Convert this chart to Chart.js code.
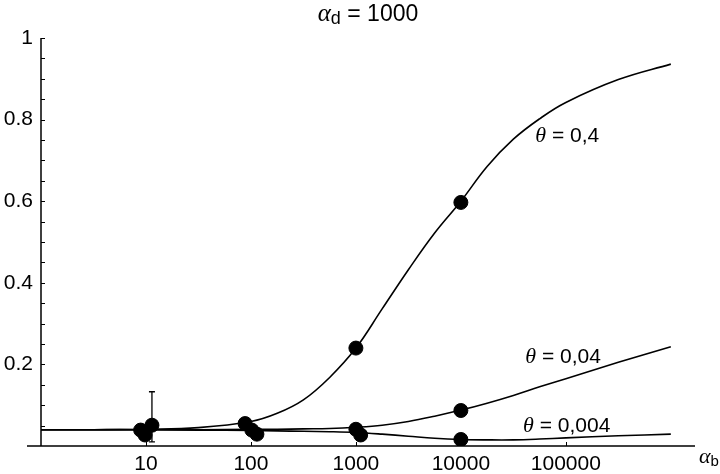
<!DOCTYPE html>
<html><head><meta charset="utf-8">
<script src="https://cdn.jsdelivr.net/npm/chart.js@4/dist/chart.umd.min.js"></script>
<style>html,body{margin:0;padding:0;background:#fff}canvas{display:block}</style>
</head><body>
<canvas id="c" width="720" height="474"></canvas>
<script>
// ---- data ----
const curveX     = [1, 3.16, 10, 31.6, 100, 178, 316, 562, 1000, 1778, 3162, 5623, 10000, 17783, 31623, 56234, 100000, 316228, 1000000];
const theta04    = [0.040, 0.040, 0.041, 0.045, 0.060, 0.080, 0.113, 0.168, 0.240, 0.336, 0.432, 0.522, 0.600, 0.685, 0.752, 0.802, 0.842, 0.898, 0.936];
const theta004   = [0.040, 0.040, 0.040, 0.040, 0.041, 0.041, 0.042, 0.043, 0.046, 0.051, 0.060, 0.073, 0.088, 0.105, 0.124, 0.145, 0.165, 0.205, 0.243];
const theta0004  = [0.040, 0.040, 0.040, 0.039, 0.038, 0.037, 0.036, 0.035, 0.033, 0.029, 0.024, 0.019, 0.016, 0.015, 0.015, 0.017, 0.020, 0.025, 0.029];
const pointX     = [8.9, 9.8, 11.4, 88, 102, 114, 1000, 1000, 1110, 10000, 10000, 10000];
const pointY     = [0.039, 0.027, 0.051, 0.055, 0.039, 0.029, 0.240, 0.041, 0.027, 0.597, 0.087, 0.016];
const errX       = [11.4];
const errLow     = [0.010];
const errHigh    = [0.133];
const xTickValues = [10, 100, 1000, 10000, 100000];
const xTickLabels = ['10', '100', '1000', '10000', '100000'];
const yLabelled   = [0.2, 0.4, 0.6, 0.8, 1];
const yTickLabels = ['0.2', '0.4', '0.6', '0.8', '1'];
const curveLabelText = ['0,4', '0,04', '0,004'];
const curveLabelX    = [51200, 41100, 39100];
const curveLabelY    = [0.745, 0.203, 0.035];

const SANS = '"Liberation Sans", Arial, Helvetica, sans-serif';
const SERIF = '"Liberation Serif", "Times New Roman", serif';
const FS = 21;

function drawParts(ctx, parts, x, y, align) {
  let w = 0;
  parts.forEach(p => { ctx.font = p.font; w += ctx.measureText(p.t).width; });
  let cx = align === 'center' ? x - w / 2 : x;
  ctx.textBaseline = 'alphabetic';
  ctx.textAlign = 'left';
  parts.forEach(p => {
    ctx.font = p.font;
    ctx.fillText(p.t, cx, y + (p.dy || 0));
    cx += ctx.measureText(p.t).width;
  });
}

const decor = {
  id: 'decor',
  beforeDatasetsDraw(chart) {
    const {ctx, scales: {x, y}} = chart;
    ctx.save();
    ctx.strokeStyle = '#000';
    ctx.lineWidth = 1.3;
    errX.forEach((v, i) => {
      const px = x.getPixelForValue(v);
      const lo = y.getPixelForValue(errLow[i]);
      const hi = y.getPixelForValue(errHigh[i]);
      ctx.beginPath();
      ctx.moveTo(px, lo); ctx.lineTo(px, hi);
      ctx.moveTo(px - 3, hi); ctx.lineTo(px + 3, hi);
      ctx.moveTo(px - 3, lo); ctx.lineTo(px + 3, lo);
      ctx.stroke();
    });
    ctx.restore();
  },
  afterDraw(chart) {
    const {ctx, chartArea: a, scales: {x, y}} = chart;
    ctx.save();
    ctx.strokeStyle = '#000';
    ctx.fillStyle = '#000';
    ctx.lineWidth = 1.5;
    const y0 = y.getPixelForValue(0);
    const y1 = y.getPixelForValue(1);
    ctx.beginPath();
    ctx.moveTo(a.left - 14, y0); ctx.lineTo(a.right, y0);
    ctx.moveTo(a.left, y1); ctx.lineTo(a.left, y0);
    ctx.stroke();
    ctx.lineWidth = 1;
    ctx.beginPath();
    y.ticks.forEach(t => {
      if (t.value <= 0) return;
      const p = Math.round(y.getPixelForValue(t.value)) + 0.5;
      ctx.moveTo(a.left, p); ctx.lineTo(a.left + 4, p);
    });
    xTickValues.forEach(v => {
      const p = Math.round(x.getPixelForValue(v)) + 0.5;
      ctx.moveTo(p, y0); ctx.lineTo(p, y0 - 4);
    });
    ctx.stroke();
    // title
    drawParts(ctx, [
      {t: 'α', font: `italic ${FS + 4}px ${SERIF}`},
      {t: 'd', font: `${FS - 3}px ${SANS}`, dy: 3},
      {t: ' = 1000', font: `${FS + 2}px ${SANS}`}
    ], (a.left + a.right) / 2, 21, 'center');
    // axis name
    drawParts(ctx, [
      {t: 'α', font: `italic ${FS + 1}px ${SERIF}`},
      {t: 'b', font: `${FS - 6}px ${SANS}`, dy: 3}
    ], a.right + 4, y0 + 17, 'left');
    // curve labels
    curveLabelText.forEach((s, i) => {
      drawParts(ctx, [
        {t: 'θ', font: `italic ${FS + 1}px ${SERIF}`},
        {t: ' = ' + s, font: `${FS}px ${SANS}`}
      ], x.getPixelForValue(curveLabelX[i]), y.getPixelForValue(curveLabelY[i]), 'left');
    });
    ctx.restore();
  }
};

function curve(vals) {
  return {
    type: 'line',
    data: curveX.map((v, i) => ({x: v, y: vals[i]})),
    borderColor: '#000', borderWidth: 1.6, pointRadius: 0,
    tension: 0.4, fill: false, order: 2
  };
}

new Chart(document.getElementById('c'), {
  data: {
    datasets: [
      curve(theta04), curve(theta004), curve(theta0004),
      {
        type: 'scatter',
        data: pointX.map((v, i) => ({x: v, y: pointY[i]})),
        backgroundColor: '#000', borderColor: '#000',
        pointRadius: 7, pointHoverRadius: 7, order: 1
      }
    ]
  },
  options: {
    responsive: false,
    devicePixelRatio: 1,
    animation: false,
    layout: {padding: {top: 38, right: 25, left: 0, bottom: 0}},
    plugins: {legend: {display: false}, tooltip: {enabled: false}, title: {display: false}},
    scales: {
      x: {
        type: 'logarithmic', min: 1, max: 1.7e6,
        grid: {display: false, drawTicks: false}, border: {display: false},
        afterBuildTicks: s => { s.ticks = xTickValues.map(v => ({value: v})); },
        afterFit: s => { s.height = 28; },
        ticks: {
          color: '#000', font: {family: SANS, size: FS}, padding: 6,
          maxRotation: 0, autoSkip: false,
          callback: (v) => { const i = xTickValues.indexOf(v); return i >= 0 ? xTickLabels[i] : ''; }
        }
      },
      y: {
        type: 'linear', min: 0, max: 1,
        grid: {display: false, drawTicks: false}, border: {display: false},
        afterFit: s => { s.width = 41; },
        ticks: {
          stepSize: 0.05, autoSkip: false, color: '#000', padding: 8,
          font: {family: SANS, size: FS},
          callback: (v) => {
            const i = yLabelled.findIndex(t => Math.abs(t - v) < 1e-6);
            return i >= 0 ? yTickLabels[i] : '';
          }
        }
      }
    }
  },
  plugins: [decor]
});
</script>
</body></html>
